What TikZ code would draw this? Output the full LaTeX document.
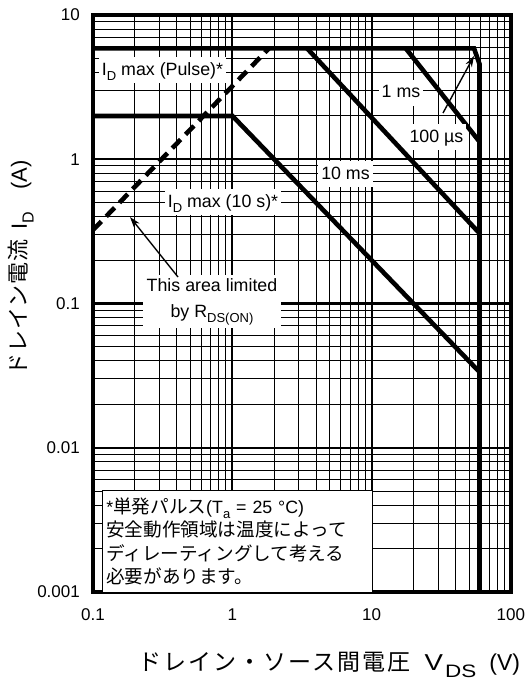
\documentclass[tikz,border=0pt]{standalone}
\usepackage{fontspec}
\usepackage{graphicx}
\setmainfont{Liberation Sans}
\newfontfamily\jpfam{Noto Sans CJK JP}
\newfontfamily\jpx[LetterSpace=9]{Noto Sans CJK JP}
\newfontfamily\jpy[LetterSpace=4]{Noto Sans CJK JP}
\usetikzlibrary{arrows.meta}
\newcommand\lsub[2][13]{\raisebox{-0.3em}{\fontsize{#1}{#1}\selectfont #2}}
\begin{document}
\begin{tikzpicture}[x=1pt,y=-1pt,
  gridminor/.style={line width=0.9pt},
  gridmajor/.style={line width=2.2pt},
  frameline/.style={line width=3.5pt},
  curve/.style={line width=4.6pt, line join=miter},
  dashcurve/.style={line width=4.6pt, dash pattern=on 12pt off 7pt},
  lbl/.style={fill=white, inner xsep=3pt, inner ysep=5pt, font=\fontsize{17.8}{20}\selectfont, text height=13pt, text depth=3pt},
  tick/.style={font=\fontsize{17}{20}\selectfont, inner sep=0pt},
  arr/.style={line width=1.4pt, -{Stealth[length=11pt,width=7pt]}},
]
\useasboundingbox (0,0) rectangle (528,681);
\fill[white] (0,0) rectangle (528,681);
\def\xo{93}\def\xd{139.3}\def\yo{15}\def\yd{144.2}
% minor grid
\foreach \d in {0,1,2}{\foreach \k in {2,...,9}{
  \draw[gridminor] ({\xo+\xd*(\d+log10(\k))},15) -- ({\xo+\xd*(\d+log10(\k))},591.8);}}
\foreach \d in {0,1,2,3}{\foreach \k in {2,...,9}{
  \draw[gridminor] (93,{\yo+\yd*(\d+1-log10(\k))}) -- (510.9,{\yo+\yd*(\d+1-log10(\k))});}}
% decade lines
\foreach \d in {1,2}{\draw[gridmajor] ({\xo+\xd*\d},15) -- ({\xo+\xd*\d},591.8);}
\foreach \d in {1,2,3}{\draw[gridmajor] (93,{\yo+\yd*\d}) -- (510.9,{\yo+\yd*\d});}
% frame
\draw[frameline] (93,15) rectangle (510.9,591.8);
% curves
\draw[curve] (93,48.3) -- (474,48.3) -- (479.5,64) -- (479.5,591.8);
\draw[curve] (93,116) -- (232.5,116) -- (479.5,372);
\draw[curve] (307,48.3) -- (479.5,233.3);
\draw[curve] (405.7,48.3) -- (479.5,141.7);
\draw[dashcurve] (93,230) -- (269,48.3);
% labels
\node[lbl] (lpulse) at (162.5,70) {I\lsub{D} max (Pulse)*};
\node[lbl] (lten) at (223,202) {I\lsub{D} max (10 s)*};
\node[lbl] (l10ms) at (345.5,174) {10 ms};
\node[lbl] (l1ms) at (401,92.7) {1 ms};
\node[lbl] (l100us) at (436.5,137) {100 µs};
\node[fill=white, inner xsep=4pt, inner ysep=3pt, align=center, anchor=north,
  font=\fontsize{17.8}{26}\selectfont] (lrds) at (212,275)
  {This area limited\\by R\lsub{DS(ON)}};
% arrows
\coordinate (rdsTail) at (178,277);
\coordinate (rdsTip) at (130,217);
\coordinate (usTail) at (443,113);
\coordinate (usTip) at (474,56);
\draw[arr] (rdsTail) -- (rdsTip);
\draw[arr] (usTail) -- (usTip);
% note box
\node[draw, line width=1.2pt, fill=white, anchor=north west, minimum width=270pt,
  minimum height=102pt, inner sep=0pt, text width=262pt, align=left,
  font=\fontsize{17.8}{23.5}\selectfont] (note) at (101.7,490)
  {*{\jpfam\fontsize{18.6}{23.5}\selectfont 単発パルス}(T\lsub{a} = 25 °C)\\
   {\jpfam\fontsize{18.6}{23.5}\selectfont 安全動作領域は温度によって}\\
   {\jpfam\fontsize{18.6}{23.5}\selectfont ディレーティングして考える}\\
   {\jpfam\fontsize{18.6}{23.5}\selectfont 必要があります。}};
% tick labels
\node[tick, anchor=east] (y10) at (80,15) {10};
\node[tick, anchor=east] (y1) at (80,159.2) {1};
\node[tick, anchor=east] (y01) at (80,303.4) {0.1};
\node[tick, anchor=east] (y001) at (80,447.6) {0.01};
\node[tick, anchor=east] (y0001) at (80,591.8) {0.001};
\node[tick, anchor=base] (x01) at (93,620) {0.1};
\node[tick, anchor=base] (x1) at (232.3,620) {1};
\node[tick, anchor=base] (x10) at (371.6,620) {10};
\node[tick, anchor=base] (x100) at (510.9,620) {100};
% axis titles
\node[anchor=base west, inner sep=0pt, font=\fontsize{23}{23}\selectfont] (xtitle) at (138,670)
  {{\jpx ドレイン・ソース間電圧}\hspace{14pt}\scalebox{1.2}[1]{V}\hspace{2pt}\raisebox{-7pt}{\scalebox{1.25}[1]{\fontsize{18}{18}\selectfont DS}}\hspace{13pt}(V)};
\node[rotate=90, inner sep=0pt, font=\fontsize{22}{22}\selectfont] (ytitle) at (21,268)
  {{\jpy ドレイン電流}\hspace{10pt}I\lsub[16]{D}\hspace{22pt}(A)};
\end{tikzpicture}
\end{document}
